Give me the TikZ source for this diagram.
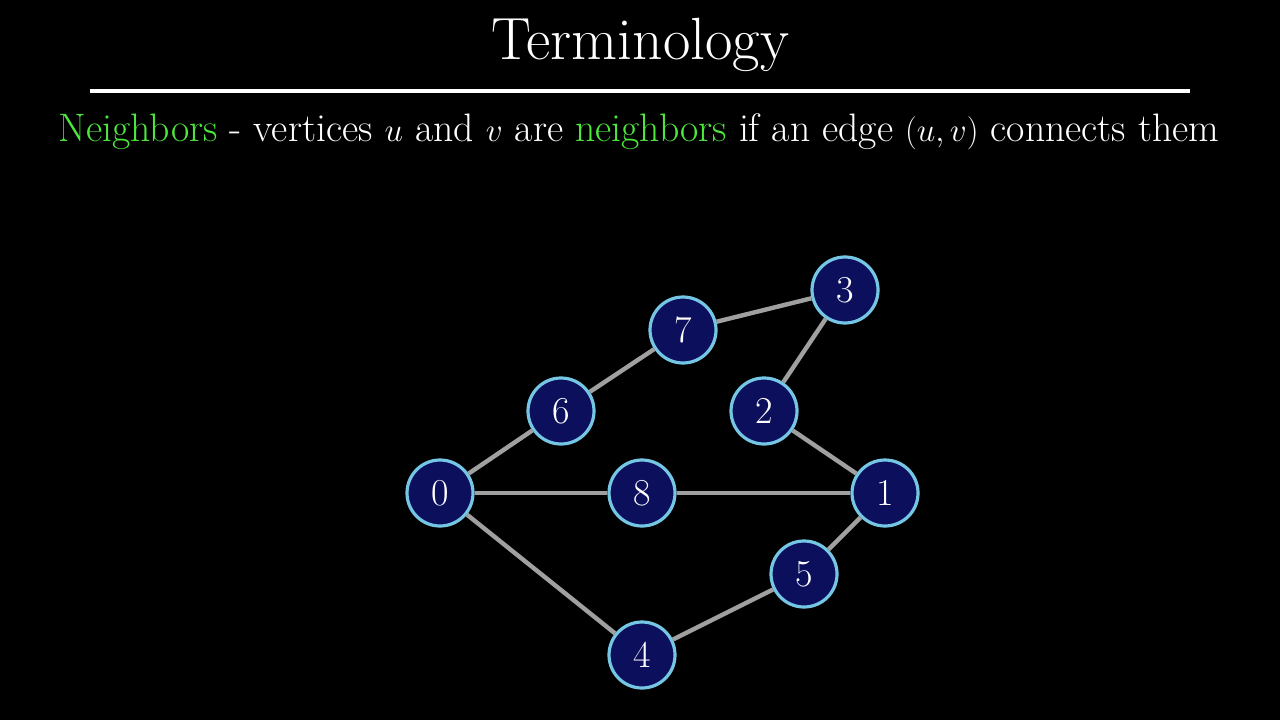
\documentclass[tikz,border=0pt]{standalone}
\usepackage{xcolor}
\definecolor{nodefill}{HTML}{0B0F5C}
\definecolor{nodeedge}{HTML}{74C6E4}
\definecolor{edgegray}{HTML}{A0A0A0}
\definecolor{nbgreen}{HTML}{4CE83C}
\begin{document}
\begin{tikzpicture}[x=0.75pt,y=-0.75pt,
  vert/.style={circle,draw=nodeedge,fill=nodefill,line width=2.4pt,minimum size=49.5pt,inner sep=0pt,text=white,font=\fontsize{28.5}{30}\selectfont},
  edge/.style={draw=edgegray,line width=3.3pt}]
\fill[black] (0,0) rectangle (1280,720);
\useasboundingbox (0,0) rectangle (1280,720);
\node[text=white,font=\fontsize{44.7}{50}\selectfont,anchor=base] (title) at (640,60) {Terminology};
\coordinate (rl) at (90,91);
\coordinate (rr) at (1190,91);
\draw[white,line width=2.4pt] (rl) -- (rr);
\node[text=white,font=\fontsize{29.8}{34}\selectfont,anchor=base,inner sep=0pt] (sub) at (639,142) {\textcolor{nbgreen}{Neighbors} - vertices $u$ and $v$ are \textcolor{nbgreen}{neighbors} if an edge $(u,v)$ connects them};
\node[vert] (n0) at (440,493) {0};
\node[vert] (n6) at (561,411) {6};
\node[vert] (n7) at (683,330) {7};
\node[vert] (n3) at (845,290) {3};
\node[vert] (n2) at (764,411) {2};
\node[vert] (n8) at (642,493) {8};
\node[vert] (n1) at (885,493) {1};
\node[vert] (n5) at (804,574) {5};
\node[vert] (n4) at (642,655) {4};
\path[edge] (n0) -- (n6);
\path[edge] (n6) -- (n7);
\path[edge] (n7) -- (n3);
\path[edge] (n3) -- (n2);
\path[edge] (n2) -- (n1);
\path[edge] (n0) -- (n8);
\path[edge] (n8) -- (n1);
\path[edge] (n1) -- (n5);
\path[edge] (n5) -- (n4);
\path[edge] (n4) -- (n0);
\end{tikzpicture}
\end{document}
